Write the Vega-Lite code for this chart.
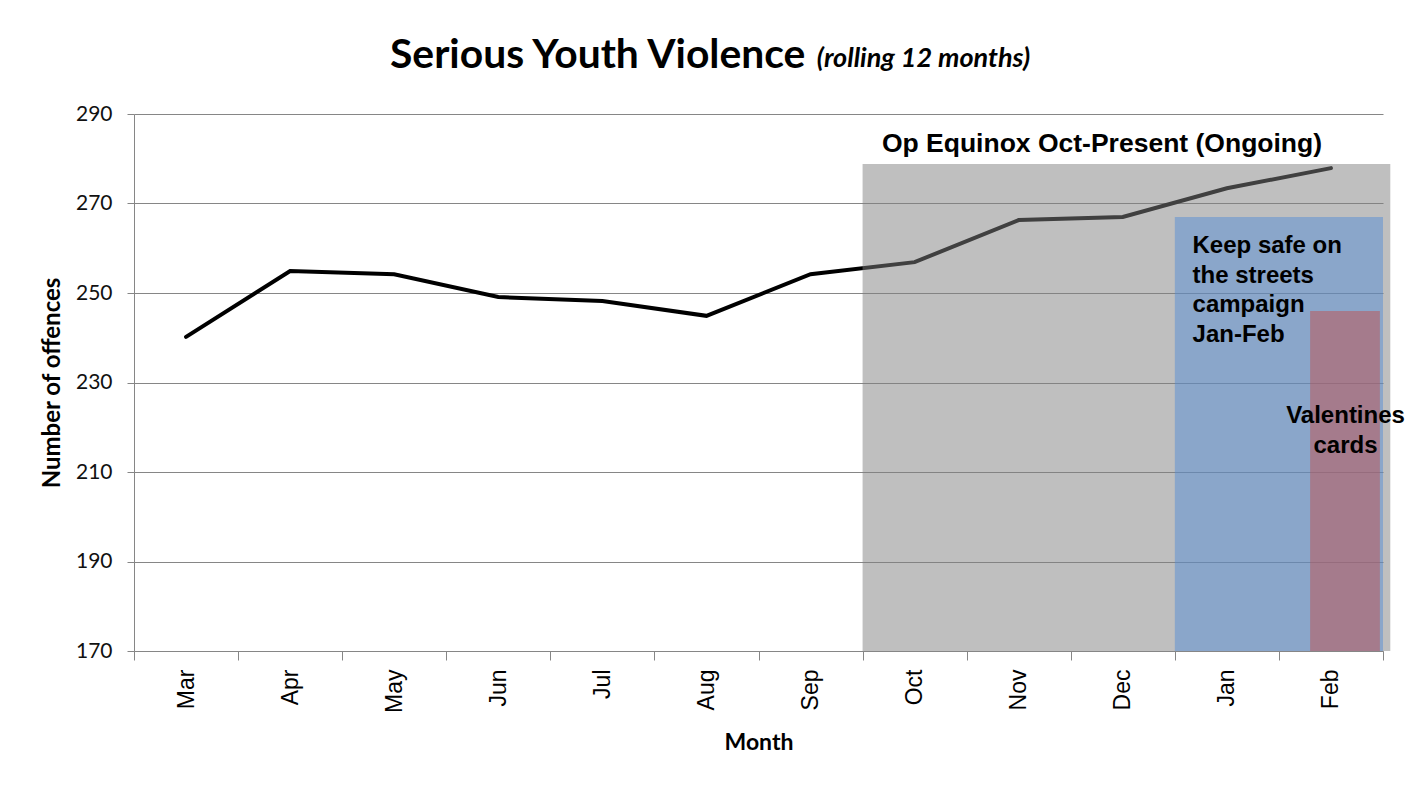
{
  "$schema": "https://vega.github.io/schema/vega-lite/v6.json",
  "width": 1249,
  "height": 537,
  "autosize": "none",
  "padding": {"left": 134, "top": 114, "right": 38, "bottom": 136},
  "background": "white",
  "config": {"view": {"stroke": null}},
  "resolve": {"scale": {"x": "independent"}},
  "layer": [
    {
      "data": {
        "values": [
          {"month": "Mar", "value": 240.2},
          {"month": "Apr", "value": 254.9},
          {"month": "May", "value": 254.2},
          {"month": "Jun", "value": 249.1},
          {"month": "Jul", "value": 248.2},
          {"month": "Aug", "value": 244.9},
          {"month": "Sep", "value": 254.2},
          {"month": "Oct", "value": 256.9},
          {"month": "Nov", "value": 266.3},
          {"month": "Dec", "value": 267.0},
          {"month": "Jan", "value": 273.4},
          {"month": "Feb", "value": 277.9}
        ]
      },
      "mark": {"type": "line", "color": "black", "strokeWidth": 4, "strokeCap": "round"},
      "encoding": {
        "x": {
          "field": "month",
          "type": "ordinal",
          "sort": null,
          "scale": {"type": "band", "paddingInner": 0, "paddingOuter": 0},
          "axis": {
            "title": "Month",
            "tickBand": "extent",
            "labelAngle": -90,
            "labelFont": "Liberation Sans",
            "labelFontSize": 23,
            "labelColor": "black",
            "domainColor": "#868686",
            "tickColor": "#868686",
            "tickSize": 9,
            "labelPadding": 9,
            "titleFont": "Lato",
            "titleFontWeight": "bold",
            "titleFontSize": 23,
            "titleColor": "black",
            "titlePadding": 19,
            "grid": false
          }
        },
        "y": {
          "field": "value",
          "type": "quantitative",
          "scale": {"domain": [170, 290], "nice": false, "zero": false},
          "axis": {
            "title": "Number of offences",
            "values": [170, 190, 210, 230, 250, 270, 290],
            "grid": true,
            "gridColor": "#868686",
            "domainColor": "#868686",
            "tickColor": "#868686",
            "tickSize": 7,
            "labelPadding": 15,
            "labelFont": "Lato",
            "labelFontSize": 21,
            "labelColor": "#111111",
            "titleFont": "Lato",
            "titleFontWeight": "bold",
            "titleFontSize": 24,
            "titleColor": "black",
            "titlePadding": 11
          }
        }
      }
    },
    {
      "data": {
        "values": [
          {"name": "Op Equinox", "start": 7, "end": 12.07, "top": 278.8, "bottom": 170},
          {"name": "Keep safe", "start": 10, "end": 12, "top": 267, "bottom": 170},
          {"name": "Valentines", "start": 11.3, "end": 11.97, "top": 246, "bottom": 170}
        ]
      },
      "mark": {"type": "rect", "opacity": 0.5},
      "encoding": {
        "x": {"field": "start", "type": "quantitative", "scale": {"domain": [0, 12]}, "axis": null},
        "x2": {"field": "end"},
        "y": {"field": "top", "type": "quantitative"},
        "y2": {"field": "bottom"},
        "color": {
          "field": "name",
          "type": "nominal",
          "scale": {"domain": ["Op Equinox", "Keep safe", "Valentines"], "range": ["#808080", "#558ED5", "#C0504D"]},
          "legend": null
        }
      }
    },
    {
      "data": {"values": [{"label": "Op Equinox Oct-Present (Ongoing)"}]},
      "mark": {"type": "text", "font": "Liberation Sans", "fontWeight": "bold", "fontSize": 26.5, "align": "center", "baseline": "alphabetic", "color": "black"},
      "encoding": {
        "text": {"field": "label"},
        "x": {"datum": 9.3, "type": "quantitative", "scale": {"domain": [0, 12]}, "axis": null},
        "y": {"datum": 281.5, "type": "quantitative"}
      }
    },
    {
      "data": {"values": [{"label": "Keep safe on|the streets|campaign|Jan-Feb"}]},
      "mark": {"type": "text", "font": "Liberation Sans", "fontWeight": "bold", "fontSize": 24, "align": "left", "baseline": "alphabetic", "lineBreak": "|", "lineHeight": 29.5, "color": "black"},
      "encoding": {
        "text": {"field": "label"},
        "x": {"datum": 10.17, "type": "quantitative", "scale": {"domain": [0, 12]}, "axis": null},
        "y": {"datum": 258.9, "type": "quantitative"}
      }
    },
    {
      "data": {"values": [{"label": "Valentines|cards"}]},
      "mark": {"type": "text", "font": "Liberation Sans", "fontWeight": "bold", "fontSize": 24, "align": "center", "baseline": "alphabetic", "lineBreak": "|", "lineHeight": 30, "color": "black"},
      "encoding": {
        "text": {"field": "label"},
        "x": {"datum": 11.64, "type": "quantitative", "scale": {"domain": [0, 12]}, "axis": null},
        "y": {"datum": 221, "type": "quantitative"}
      }
    },
    {
      "data": {"values": [{"label": "Serious Youth Violence"}]},
      "mark": {"type": "text", "font": "Lato", "fontWeight": "bold", "fontSize": 40.8, "align": "left", "baseline": "alphabetic", "color": "black"},
      "encoding": {
        "text": {"field": "label"},
        "x": {"datum": 2.46, "type": "quantitative", "scale": {"domain": [0, 12]}, "axis": null},
        "y": {"datum": 300.2, "type": "quantitative"}
      }
    },
    {
      "data": {"values": [{"label": "(rolling 12 months)"}]},
      "mark": {"type": "text", "font": "Lato", "fontStyle": "italic", "fontWeight": "bold", "fontSize": 27, "align": "left", "baseline": "alphabetic", "color": "black"},
      "encoding": {
        "text": {"field": "label"},
        "x": {"datum": 6.56, "type": "quantitative", "scale": {"domain": [0, 12]}, "axis": null},
        "y": {"datum": 300.6, "type": "quantitative"}
      }
    }
  ]
}
